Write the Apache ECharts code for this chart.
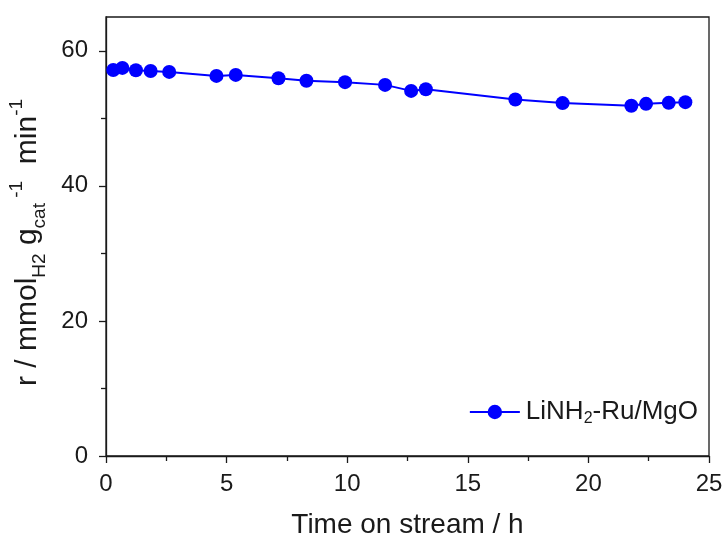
<!DOCTYPE html>
<html><head><meta charset="utf-8">
<script src="https://cdn.jsdelivr.net/npm/echarts@6/dist/echarts.min.js"></script>
<style>html,body{margin:0;padding:0;background:#fff}#c{width:724px;height:542px}</style>
</head><body><div id="c"></div>
<script>
const timeH = [0.30, 0.68, 1.24, 1.85, 2.62, 4.58, 5.38, 7.15, 8.31, 9.91, 11.57, 12.65, 13.26, 16.97, 18.93, 21.78, 22.39, 23.33, 24.02];
const rate = [57.16, 57.46, 57.12, 57.0, 56.87, 56.28, 56.43, 55.94, 55.55, 55.35, 54.95, 54.06, 54.31, 52.78, 52.25, 51.85, 52.14, 52.29, 52.39];
const seriesName = 'LiNH2-Ru/MgO';
const xTicks = [0, 5, 10, 15, 20, 25];
const xMinorTicks = [2.5, 7.5, 12.5, 17.5, 22.5];
const yTicks = [0, 20, 40, 60];
const yMinorTicks = [10, 30, 50];

const font = 'Liberation Sans, Arial, sans-serif';
const ink = '#1a1a1a';
const chart = echarts.init(document.getElementById('c'), null, {renderer: 'canvas'});
const tickStyle = {color: ink, width: 1.3};
chart.setOption({
  animation: false,
  backgroundColor: '#fff',
  grid: {left: 106, right: 15, top: 17, bottom: 86, containLabel: false, outerBoundsMode: 'none',
    show: true, borderColor: ink, borderWidth: 1.3},
  legend: {
    right: 21, top: 394, itemWidth: 50, itemHeight: 18, itemGap: 0,
    data: [seriesName],
    formatter: () => '{a|LiNH}{s|2}{a|-Ru/MgO}',
    textStyle: {
      fontFamily: font, color: ink, padding: [0, 0, 0, 1],
      rich: {
        a: {fontSize: 26, fontFamily: font, color: ink, lineHeight: 30},
        s: {fontSize: 16, fontFamily: font, color: ink, verticalAlign: 'bottom', lineHeight: 14}
      }
    }
  },
  xAxis: [{
    type: 'value', min: 0, max: 25, interval: 5,
    name: 'Time on stream / h', nameLocation: 'middle', nameGap: 55,
    nameTextStyle: {fontFamily: font, fontSize: 28, color: ink},
    axisLine: {lineStyle: tickStyle},
    axisTick: {show: true, inside: false, length: 7, lineStyle: tickStyle, customValues: xTicks},
    axisLabel: {fontFamily: font, fontSize: 24, color: ink, margin: 16, customValues: xTicks},
    splitLine: {show: false}
  }, {
    type: 'value', min: 0, max: 25, position: 'bottom',
    axisLine: {show: false},
    axisTick: {show: true, inside: false, length: 5, lineStyle: tickStyle, customValues: xMinorTicks},
    axisLabel: {show: false},
    splitLine: {show: false}
  }],
  yAxis: [{
    type: 'value', min: 0, max: 65, interval: 20,
    name: '{a|r / mmol}{s|H2}{a| g}{s|cat}{p| -1}{a|  min}{p|-1}',
    nameLocation: 'middle', nameGap: 57, nameRotate: 90,
    nameTextStyle: {
      fontFamily: font, color: ink, padding: [0, 12, 0, 0],
      rich: {
        a: {fontSize: 30, fontFamily: font, color: ink, lineHeight: 42},
        s: {fontSize: 19, fontFamily: font, color: ink, verticalAlign: 'bottom', lineHeight: 17},
        p: {fontSize: 19, fontFamily: font, color: ink, verticalAlign: 'top', lineHeight: 17}
      }
    },
    axisLine: {lineStyle: tickStyle},
    axisTick: {show: true, inside: false, length: 7, lineStyle: tickStyle, customValues: yTicks},
    axisLabel: {fontFamily: font, fontSize: 24, color: ink, margin: 18, customValues: yTicks},
    splitLine: {show: false}
  }, {
    type: 'value', min: 0, max: 65, position: 'left',
    axisLine: {show: false},
    axisTick: {show: true, inside: false, length: 5, lineStyle: tickStyle, customValues: yMinorTicks},
    axisLabel: {show: false},
    splitLine: {show: false}
  }],
  series: [{
    name: seriesName, type: 'line',
    xAxisIndex: 0, yAxisIndex: 0,
    data: timeH.map((t, i) => [t, rate[i]]),
    symbol: 'circle', symbolSize: 14,
    itemStyle: {color: '#0000ff'},
    lineStyle: {color: '#0000ff', width: 2}
  }]
});
</script></body></html>
